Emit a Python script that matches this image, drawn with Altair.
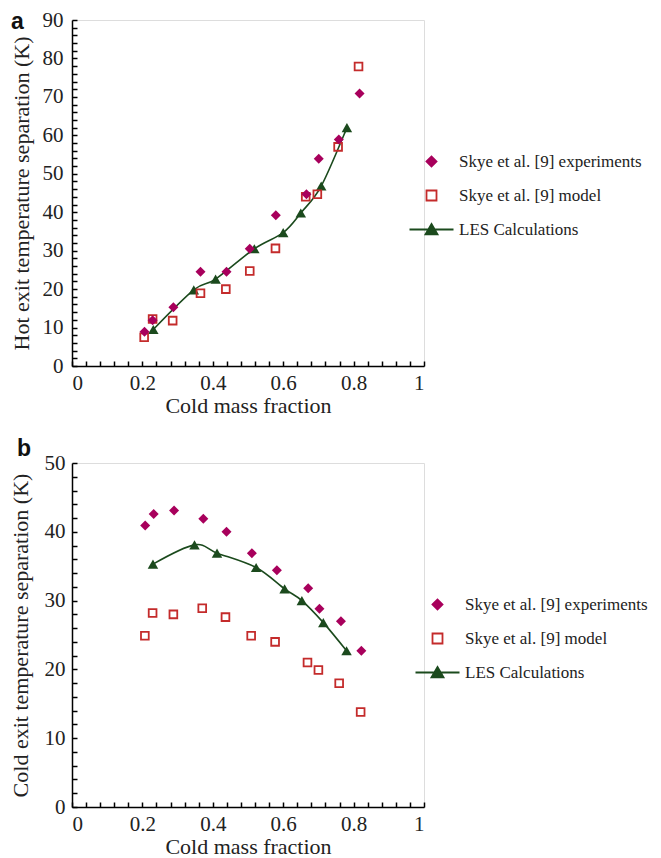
import altair as alt
import pandas as pd

SERIES = ["Skye et al. [9] experiments", "Skye et al. [9] model", "LES Calculations"]

# Panel a: hot exit temperature separation
a_exp_x = [0.206, 0.229, 0.288, 0.365, 0.439, 0.505, 0.579, 0.666, 0.701, 0.758, 0.817]
a_exp_y = [8.9, 11.9, 15.3, 24.5, 24.5, 30.5, 39.2, 44.7, 53.9, 58.9, 70.9]
a_mod_x = [0.205, 0.229, 0.286, 0.365, 0.437, 0.505, 0.578, 0.664, 0.697, 0.756, 0.814]
a_mod_y = [7.5, 12.2, 11.8, 18.9, 20.0, 24.7, 30.6, 44.0, 44.7, 57.0, 77.9]
a_les_x = [0.231, 0.346, 0.408, 0.518, 0.600, 0.650, 0.708, 0.781]
a_les_y = [9.5, 19.8, 22.6, 30.5, 34.7, 39.8, 46.8, 62.0]

# Panel b: cold exit temperature separation
b_exp_x = [0.208, 0.232, 0.290, 0.373, 0.439, 0.511, 0.582, 0.671, 0.703, 0.764, 0.822]
b_exp_y = [40.9, 42.6, 43.1, 41.9, 40.0, 36.9, 34.4, 31.8, 28.8, 27.0, 22.7]
b_mod_x = [0.207, 0.229, 0.288, 0.370, 0.436, 0.509, 0.577, 0.669, 0.700, 0.759, 0.820]
b_mod_y = [24.9, 28.2, 28.0, 28.9, 27.6, 24.9, 24.0, 21.0, 19.9, 18.0, 13.8]
b_les_x = [0.230, 0.348, 0.412, 0.523, 0.604, 0.653, 0.714, 0.780]
b_les_y = [35.3, 38.1, 36.9, 34.8, 31.7, 30.0, 26.8, 22.7]

x_ticks = [round(i * 0.04, 2) for i in range(26)]
a_y_ticks = list(range(0, 91, 2))
b_y_ticks = list(range(0, 51, 2))

MAGENTA = "#A8005C"
RED = "#C42B2B"
GREEN = "#1B4A1D"
SERIF = "Liberation Serif"
LES_PATH = "M-4.4,0L4.4,0M0,-1.1L1.2,0.95L-1.2,0.95Z"

X_MAJOR = "abs(datum.value*5 - round(datum.value*5)) < 0.001"
Y_MAJOR = "datum.value % 10 == 0"

AXIS_COMMON = dict(
    grid=False, domainColor="black", domainWidth=1.5, tickColor="black",
    tickWidth=1.5, labelFont=SERIF, labelFontSize=21,
    labelColor="#222", titleFont=SERIF, titleFontSize=22,
    titleFontWeight="normal", titleColor="#222",
)

RESOLVE_CH = dict(shape="independent", stroke="independent", fill="independent")


def panel(tag, exp_x, exp_y, mod_x, mod_y, les_x, les_y, ymax, yticks, ytitle,
          ylabel_pad, ytitle_pad, legend_x, legend_y, tag_x, tag_y, height):
    exp = pd.DataFrame({"x": exp_x, "y": exp_y, "series": SERIES[0]})
    mod = pd.DataFrame({"x": mod_x, "y": mod_y, "series": SERIES[1]})
    les = pd.DataFrame({"x": les_x, "y": les_y, "series": SERIES[2]})
    allpts = pd.concat([exp, mod, les], ignore_index=True)

    x = alt.X("x:Q", scale=alt.Scale(domain=[0, 1], nice=False, zero=False),
              axis=alt.Axis(title="Cold mass fraction", values=x_ticks,
                            labelExpr=X_MAJOR + " ? format(datum.value, '~g') : ''",
                            tickSize={"expr": "-5"},
                            labelPadding=11, titlePadding=2, **AXIS_COMMON))
    y = alt.Y("y:Q", scale=alt.Scale(domain=[0, ymax], nice=False, zero=True),
              axis=alt.Axis(title=ytitle, values=yticks,
                            labelExpr=Y_MAJOR + " ? format(datum.value, 'd') : ''",
                            tickSize={"expr": "-5"},
                            labelPadding=ylabel_pad, titlePadding=ytitle_pad, **AXIS_COMMON))

    exp_layer = alt.Chart(exp).mark_point(shape="diamond", filled=True, size=100,
                                          color=MAGENTA, opacity=1).encode(x=x, y=y)
    mod_layer = alt.Chart(mod).mark_point(shape="square", filled=False, size=60,
                                          color=RED, strokeWidth=1.8, opacity=1).encode(x=x, y=y)
    les_line = alt.Chart(les).mark_line(color=GREEN, strokeWidth=1.6,
                                        interpolate="cardinal").encode(x=x, y=y)
    les_pts = alt.Chart(les).mark_point(shape="triangle-up", filled=True, size=110,
                                        color=GREEN, opacity=1).encode(x=x, y=y)

    leg = alt.Legend(orient="none", legendX=legend_x, legendY=legend_y, title=None,
                     labelFont=SERIF, labelFontSize=17, labelColor="#222", labelLimit=0,
                     symbolSize=100, symbolStrokeWidth=1.8, rowPadding=15,
                     labelOffset=19, symbolOpacity=1)
    legend_layer = alt.Chart(allpts).mark_point(opacity=0).encode(
        x=x, y=y,
        shape=alt.Shape("series:N", scale=alt.Scale(domain=SERIES, range=["diamond", "square", LES_PATH]), legend=leg),
        stroke=alt.Stroke("series:N", scale=alt.Scale(domain=SERIES, range=[MAGENTA, RED, GREEN]), legend=leg),
        fill=alt.Fill("series:N", scale=alt.Scale(domain=SERIES, range=[MAGENTA, "white", GREEN]), legend=leg),
    )

    tag_layer = alt.Chart(pd.DataFrame({"tag": [tag]})).mark_text(
        align="left", baseline="alphabetic", font="Liberation Sans", fontSize=23,
        fontWeight="bold", color="#111",
    ).encode(text="tag:N", x=alt.value(tag_x), y=alt.value(tag_y))

    layered = alt.layer(legend_layer, les_line, les_pts, mod_layer, exp_layer, tag_layer).properties(
        width=352, height=height,
    )
    return alt.hconcat(layered).resolve_scale(**RESOLVE_CH).resolve_legend(**RESOLVE_CH)


pa = panel("a", a_exp_x, a_exp_y, a_mod_x, a_mod_y, a_les_x, a_les_y, 90, a_y_ticks,
           "Hot exit temperature separation (K)", 14, 9, 351, 133, -61, 9, 346)
pb = panel("b", b_exp_x, b_exp_y, b_mod_x, b_mod_y, b_les_x, b_les_y, 50, b_y_ticks,
           "Cold exit temperature separation (K)", 12, 12, 357, 133, -55, -7, 344)

chart = alt.vconcat(pa, pb, spacing=20).resolve_scale(**RESOLVE_CH).resolve_legend(
    **RESOLVE_CH
).properties(padding=0).configure_view(
    stroke=None
).configure(background="white").configure_legend(labelFont=SERIF, labelLimit=0)

chart.save("out.html", embed_options={"renderer": "svg", "actions": False})
